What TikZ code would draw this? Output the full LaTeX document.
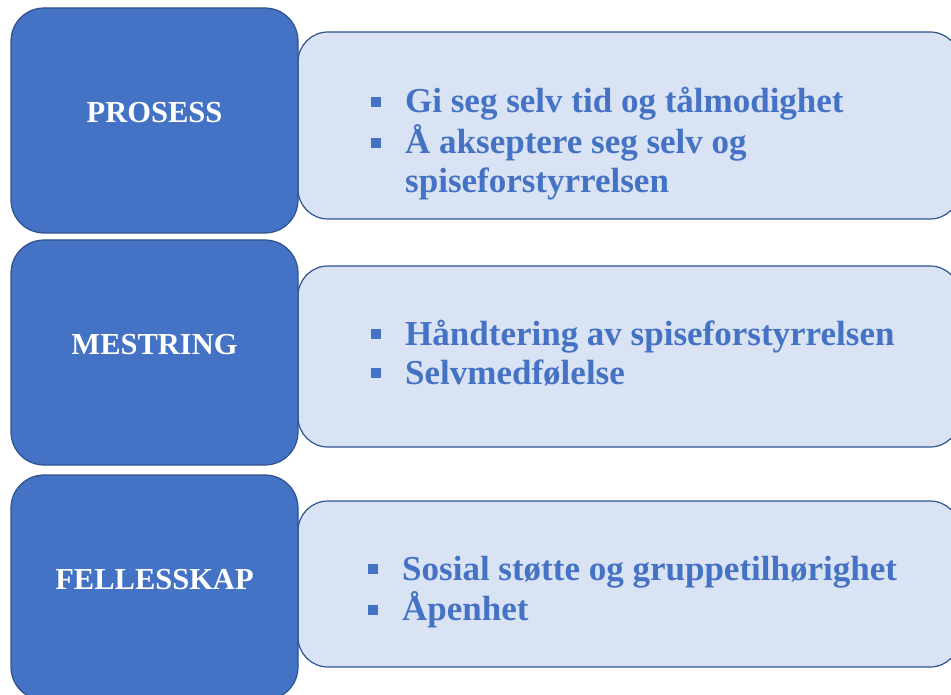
\documentclass[tikz,border=0pt]{standalone}
\usepackage{fontspec}
\setmainfont{Liberation Serif}
\definecolor{darkblue}{HTML}{4472C4}
\definecolor{edgeblue}{HTML}{2F528F}
\definecolor{paleblue}{HTML}{DAE3F3}
\newcommand{\blt}{\makebox[34pt][l]{\rule[6pt]{10pt}{10pt}}}
\tikzset{
  topic/.style={draw=edgeblue, fill=darkblue, line width=1.2pt, rounded corners=33pt,
    minimum width=287pt, minimum height=225pt},
  topictext/.style={text=white, font=\fontsize{30.5}{36}\selectfont\bfseries},
  detail/.style={draw=edgeblue, fill=paleblue, line width=1.2pt, rounded corners=30pt,
    minimum width=662pt},
  points/.style={anchor=base west, inner sep=0pt, text=darkblue,
    font=\fontsize{35}{39}\selectfont\bfseries}
}
\begin{document}
\begin{tikzpicture}[x=1pt,y=-1pt]
    \useasboundingbox (0,0) rectangle (951,695);
    % Right boxes
    \node[detail, minimum height=187pt] (prosessbox) at (629,125.5) {};
    \node[detail, minimum height=181pt] (mestringbox) at (629,356.5) {};
    \node[detail, minimum height=166pt] (fellesbox) at (629,584) {};
    % Left boxes
    \node[topic] (prosess) at (154.5,120.5) {};
    \node[topic] (mestring) at (154.5,352.5) {};
    \node[topic] (felles) at (154.5,587.5) {};
    % Labels
    \node[topictext] (prosesslbl) at ([yshift=8pt]prosess.center) {PROSESS};
    \node[topictext] (mestringlbl) at ([yshift=8pt]mestring.center) {MESTRING};
    \node[topictext] (felleslbl) at ([yshift=8pt]felles.center) {FELLESSKAP};
    % Points
    \node[points] (prosesspts) at (371,113) {\begin{tabular}[t]{@{}l@{}}
        \blt Gi seg selv tid og tålmodighet\\
        \blt Å akseptere seg selv og\\
        \hspace*{34pt}spiseforstyrrelsen\end{tabular}};
    \node[points] (mestringpts) at (371,345) {\begin{tabular}[t]{@{}l@{}}
        \blt Håndtering av spiseforstyrrelsen\\
        \blt Selvmedfølelse\end{tabular}};
    \node[points] (fellespts) at (368,580) {\begin{tabular}[t]{@{}l@{}}
        \blt Sosial støtte og gruppetilhørighet\\
        \blt Åpenhet\end{tabular}};
\end{tikzpicture}
\end{document}
